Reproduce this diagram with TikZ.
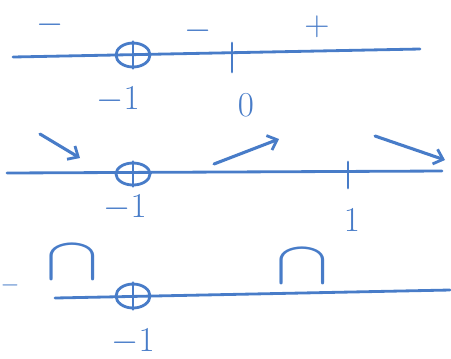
\documentclass[tikz,border=0pt]{standalone}
\usepackage{graphicx}
\usetikzlibrary{arrows.meta, shapes.geometric}
\definecolor{ink}{RGB}{72,124,200}
\newcommand{\capsym}{\scalebox{2.3}[1.75]{$\cap$}}
\tikzset{
  axis/.style={line width=2pt, color=ink, line cap=round},
  lbl/.style={color=ink, font=\fontsize{24}{24}\selectfont, inner sep=0pt},
  zero/.style={draw=ink, line width=2pt, ellipse, inner sep=0pt, minimum width=0.85cm, minimum height=0.6cm},
  var/.style={line width=2.2pt, color=ink, line cap=round, -{Straight Barb[length=6pt, width=11pt, line width=2pt]}}
}

\begin{document}
\begin{tikzpicture}[x=0.025cm, y=-0.025cm]
	\useasboundingbox (0,0) rectangle (451,358);
	% sign line
	\coordinate (sA) at (13,57);
	\coordinate (sB) at (420,49);
	\draw[axis] (sA) -- (sB);
	\node[zero] (sM) at (133,55) {};
	\draw[axis] (sM.north) -- (sM.south);
	\coordinate (sT1) at (232,43);
	\coordinate (sT2) at (232,72);
	\draw[axis] (sT1) -- (sT2);
	\node[lbl] (s1) at (50,25) {$-$};
	\node[lbl] (s2) at (198,31) {$-$};
	\node[lbl] (s3) at (317,27) {$+$};
	\node[lbl] (sx1) at (118,100) {$-1$};
	\node[lbl] (sx2) at (246,105) {$0$};
	% variation line
	\coordinate (vA) at (7,173);
	\coordinate (vB) at (442,171);
	\draw[axis] (vA) -- (vB);
	\node[zero, minimum height=0.55cm] (vM) at (133,174) {};
	\draw[axis] (vM.north) -- (vM.south);
	\coordinate (vT1) at (348,162);
	\coordinate (vT2) at (348,188);
	\draw[axis] (vT1) -- (vT2);
	\coordinate (v1a) at (40,134);
	\coordinate (v1b) at (80,158);
	\coordinate (v2a) at (214,164);
	\coordinate (v2b) at (279,139);
	\coordinate (v3a) at (375,136);
	\coordinate (v3b) at (445,160);
	\draw[var] (v1a) -- (v1b);
	\draw[var] (v2a) -- (v2b);
	\draw[var] (v3a) -- (v3b);
	\node[lbl] (vx1) at (125,208) {$-1$};
	\node[lbl] (vx2) at (352,220) {$1$};
	% concavity line
	\coordinate (cA) at (55,298);
	\coordinate (cB) at (450,290);
	\draw[axis] (cA) -- (cB);
	\node[zero] (cM) at (133,296) {};
	\draw[axis] (cM.north) -- (cM.south);
	\node[lbl, font=\fontsize{16}{16}\selectfont] (c0) at (10,285) {$-$};
	\node[lbl] (c1) at (72,262) {\capsym};
	\node[lbl] (c2) at (302,266) {\capsym};
	\node[lbl] (cx1) at (133,342) {$-1$};
\end{tikzpicture}
\end{document}
